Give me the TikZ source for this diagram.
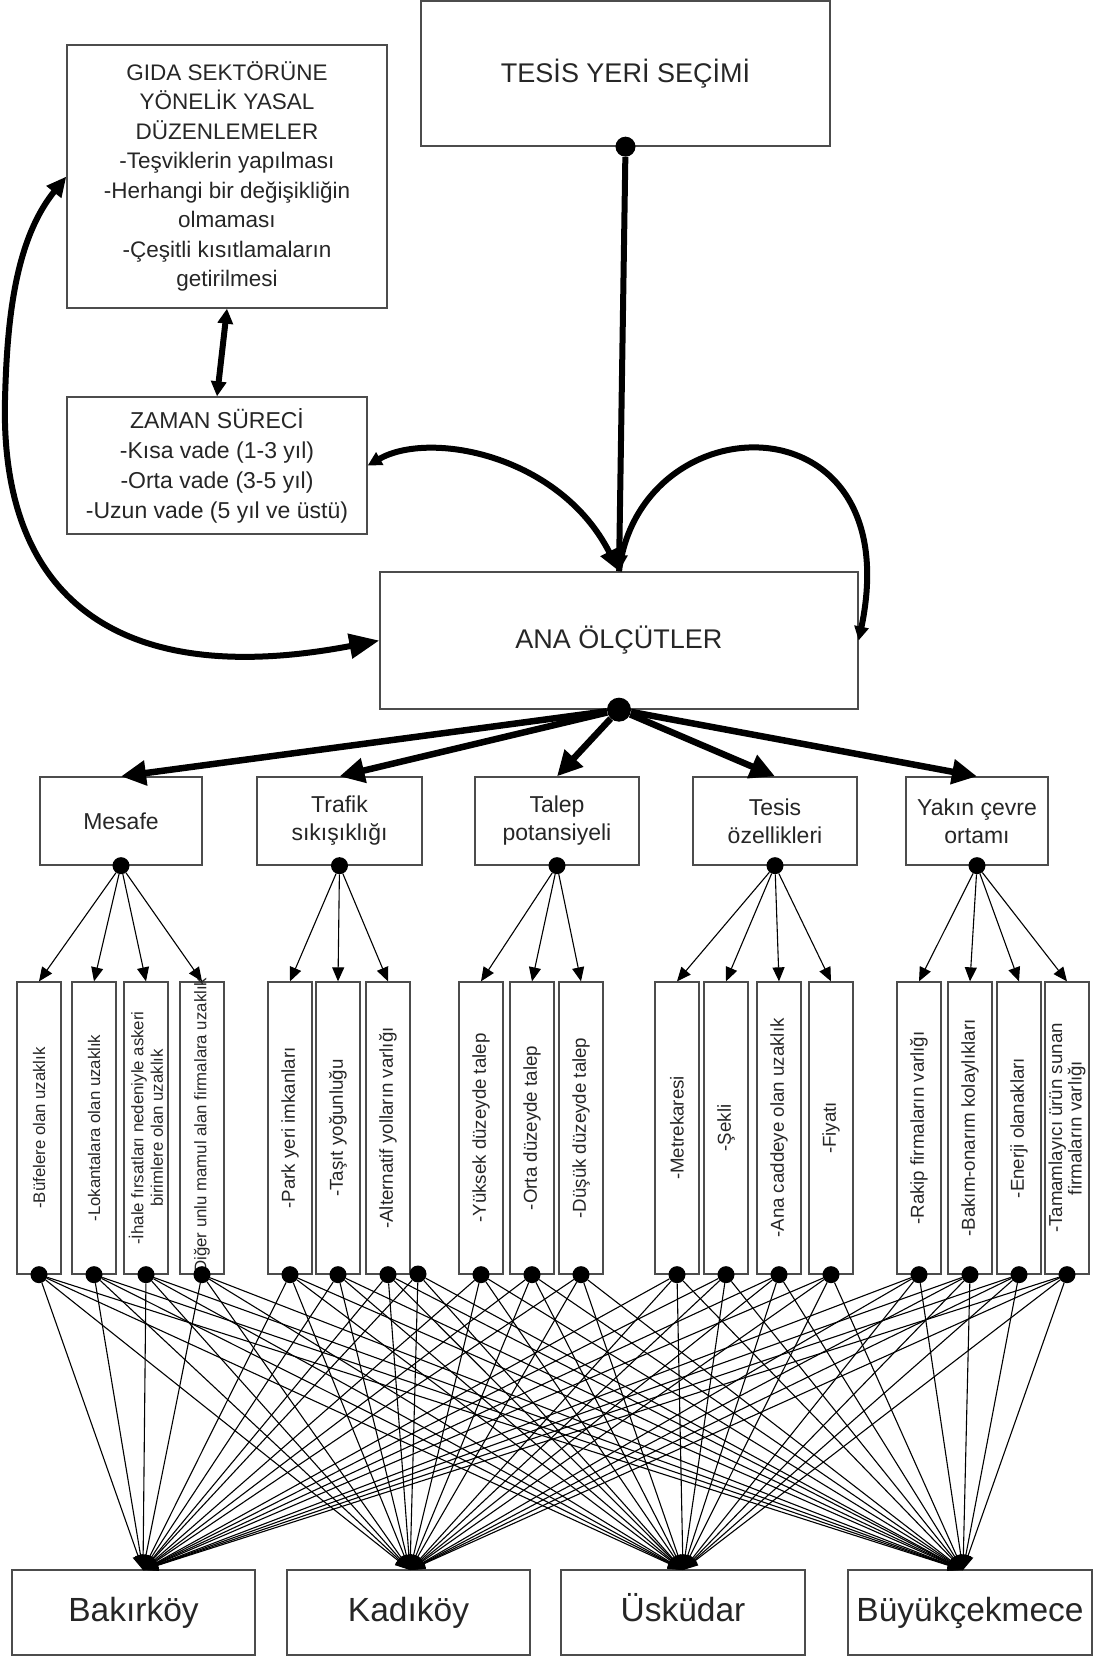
\documentclass[tikz,border=0pt]{standalone}
\usepackage{fontspec}
\setmainfont{Liberation Sans}
\usetikzlibrary{arrows.meta}

\begin{document}
\begin{tikzpicture}[x=1pt, y=-1pt,
    cell/.style={draw=black!70, line width=1.3pt, inner sep=0pt, align=center, text=black!85},
    place/.style={cell, minimum width=243pt, minimum height=85pt, text height=24pt, text depth=7pt, font=\fontsize{33.5}{38}\selectfont},
    blob/.style={circle, fill=black, inner sep=0pt, minimum size=#1},
    blob/.default=17pt,
    bold line/.style={line width=6pt},
    fine line/.style={line width=1.1pt}]
    \useasboundingbox (0,0) rectangle (1096,1657);
    % Define the nodes
    \node[cell, minimum width=409pt, minimum height=145pt, font=\fontsize{27}{32}\selectfont] (top) at (625.5,73.5) {TESİS YERİ SEÇİMİ};
    \node[cell, minimum width=320pt, minimum height=263pt, font=\fontsize{22.5}{29.5}\selectfont] (law) at (227,176.5)
        {GIDA SEKTÖRÜNE\\YÖNELİK YASAL\\DÜZENLEMELER\\-Teşviklerin yapılması\\-Herhangi bir değişikliğin\\olmaması\\-Çeşitli kısıtlamaların\\getirilmesi};
    \node[cell, minimum width=300pt, minimum height=137pt, font=\fontsize{23}{30}\selectfont] (time) at (217,465.5)
        {ZAMAN SÜRECİ\\-Kısa vade (1-3 yıl)\\-Orta vade (3-5 yıl)\\-Uzun vade (5 yıl ve üstü)};
    \node[cell, minimum width=478pt, minimum height=137pt, font=\fontsize{27}{32}\selectfont] (main) at (619,640.5) {ANA ÖLÇÜTLER};
    % criteria
    \node[cell, minimum width=162pt, minimum height=88pt, font=\fontsize{23}{28}\selectfont] (c_1) at (121,821) {Mesafe};
    \node[cell, minimum width=165pt, minimum height=88pt, font=\fontsize{23}{28}\selectfont] (c_2) at (339.5,821) {Trafik\\sıkışıklığı};
    \node[cell, minimum width=164pt, minimum height=88pt, font=\fontsize{23}{28}\selectfont] (c_3) at (557,821) {Talep\\potansiyeli};
    \node[cell, minimum width=164pt, minimum height=88pt, font=\fontsize{23}{28}\selectfont] (c_4) at (775,821) {Tesis\\özellikleri};
    \node[cell, minimum width=142pt, minimum height=88pt, font=\fontsize{23}{28}\selectfont] (c_5) at (977,821) {Yakın çevre\\ortamı};
    \foreach \n in {1,...,5}
        \node[blob] (cp_\n) at (c_\n.south) {};
    % sub criteria
    \foreach \n/\x/\fs/\t in {
        1/39/16.8/{-Büfelere olan uzaklık},
        2/94/16.8/{-Lokantalara olan uzaklık},
        3/146/16.8/{-İhale fırsatları nedeniyle askeri\\birimlere olan uzaklık},
        4/202/16.8/{-Diğer unlu mamul alan firmalara uzaklık},
        5/290/18.7/{-Park yeri imkanları},
        6/338/18.7/{-Taşıt yoğunluğu},
        7/388/18.7/{-Alternatif yolların varlığı},
        8/481/18.7/{-Yüksek düzeyde talep},
        9/532/18.7/{-Orta düzeyde talep},
        10/581/18.7/{-Düşük düzeyde talep},
        11/677/18.7/{-Metrekaresi},
        12/726/18.7/{-Şekli},
        13/779/18.7/{-Ana caddeye olan uzaklık},
        14/831/18.7/{-Fiyatı},
        15/919/18.7/{-Rakip firmaların varlığı},
        16/970/18.7/{-Bakım-onarım kolaylıkları},
        17/1019/18.7/{-Enerji olanakları},
        18/1067/18.7/{-Tamamlayıcı ürün sunan\\firmaların varlığı}}
    {
        \node[cell, minimum width=44pt, minimum height=292pt] (s_\n) at (\x,1128) {};
        \node[rotate=90, align=center, text=black!85, inner sep=0pt, font=\fontsize{\fs}{19.5}\selectfont] at (s_\n) {\t};
        \node[blob] (sp_\n) at (s_\n.south) {};
    }
    \node[blob] (sp_19) at (418,1274) {};
    % districts
    \node[place] (d_1) at (133.5,1612.5) {Bakırköy};
    \node[place] (d_2) at (408.5,1612.5) {Kadıköy};
    \node[place, minimum width=244pt] (d_3) at (683,1612.5) {Üsküdar};
    \node[place, minimum width=244pt] (d_4) at (970,1612.5) {Büyükçekmece};
    \coordinate (e_1) at (143,1570);
    \coordinate (e_2) at (410,1570);
    \coordinate (e_3) at (683,1570);
    \coordinate (e_4) at (963,1570);
    \node[blob=20pt] (tp) at (top.south) {};
    \node[blob=24pt] (mp) at (main.south) {};
    % Define the connections
    \draw[bold line, -{Triangle[length=16pt, width=16pt]}] (tp) -- (main.north);
    \draw[bold line, {Triangle[length=15pt, width=15pt]}-{Triangle[length=15pt, width=15pt]}] (law.south) -- (time.north);
    \draw[bold line, {Triangle[length=14pt, width=14pt]}-{Triangle[length=22pt, width=18pt]}]
        (time.east) .. controls (430,430) and (560,455) .. (main.north);
    \draw[bold line, -{Triangle[length=14pt, width=14pt]}]
        (main.north) .. controls (640,400) and (910,395) .. (main.east);
    \draw[bold line, {Triangle[length=20pt, width=18pt]}-{Triangle[length=30pt, width=24pt]}]
        (law.west) .. controls (15,240) and (7,320) .. (5,400) .. controls (0,600) and (120,690) .. (main.west);
    \foreach \n in {1,...,5}
        \draw[bold line, line width=6.5pt, -{Triangle[length=25pt, width=24pt]}] (mp) -- (c_\n.north);
    \foreach \c/\list in {1/{1,2,3,4}, 2/{5,6,7}, 3/{8,9,10}, 4/{11,12,13,14}, 5/{15,16,17,18}}
        \foreach \n in \list
            \draw[fine line, -{Triangle[length=14pt, width=12pt]}] (cp_\c) -- (s_\n.north);
    \foreach \n in {1,...,19}
        \foreach \k in {1,...,4}
            \draw[fine line, -{Triangle[length=15pt, width=11pt]}] (sp_\n) -- (e_\k);
\end{tikzpicture}
\end{document}
